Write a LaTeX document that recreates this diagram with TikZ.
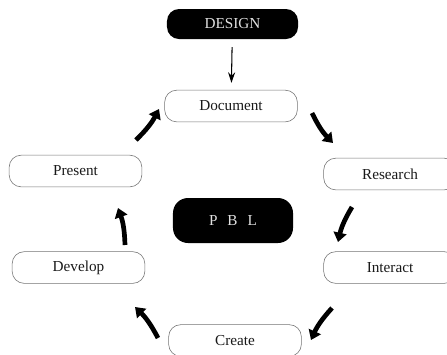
\documentclass[tikz,border=0pt]{standalone}
\usepackage{fontspec}
\setmainfont{Liberation Serif}
\usetikzlibrary{arrows.meta}

\begin{document}
\begin{tikzpicture}[x=0.03cm,y=-0.03cm,
	stage/.style={draw=black!55, line width=0.5pt, rounded corners=0.36cm,
		minimum width=3.98cm, minimum height=0.95cm, text=black!90,
		font=\fontsize{13}{15}\selectfont},
	block/.style={fill=black, rounded corners=0.36cm,
		minimum width=3.93cm, minimum height=0.9cm, text=black!12,
		font=\fontsize{13}{15}\selectfont},
	bigarrow/.style={line width=4pt, -{Triangle[length=8pt,width=11pt]}}]

	\useasboundingbox (0,0) rectangle (447,354);

	% ---- boxes

	\node[block] (design) at (232.5,24) {DESIGN};
	\node[block, minimum width=3.6cm, minimum height=1.35cm, rounded corners=0.45cm]
		(pbl) at (233,220.5) {P\hspace{0.3cm}B\hspace{0.3cm}L};

	\node[stage] (document) at (231,106) {Document};
	\node[stage] (research) at (390,174) {Research};
	\node[stage] (interact) at (390,267.5) {Interact};
	\node[stage] (create) at (235,340.5) {Create};
	\node[stage] (develop) at (78.5,267.5) {Develop};
	\node[stage] (present) at (75.5,171) {Present};

	% ---- arrow ends

	\foreach \i/\xa/\ya/\xb/\yb in {1/136/140/159/109, 2/312/113/333/143,
		3/352/207/338/242, 4/332/308/311/340, 5/158/338/135/307, 6/125/245/118/208} {
		\coordinate (S\i) at (\xa,\ya);
		\coordinate (E\i) at (\xb,\yb);
	}

	% ---- arrows

	\draw[-{Stealth[length=9pt,width=6pt]}, line width=0.9pt,
		shorten <=0.24cm, shorten >=0.21cm] (design) -- (document);

	\foreach \i in {1,...,6} { \draw[bigarrow] (S\i) to[bend right=9] (E\i); }

\end{tikzpicture}
\end{document}
